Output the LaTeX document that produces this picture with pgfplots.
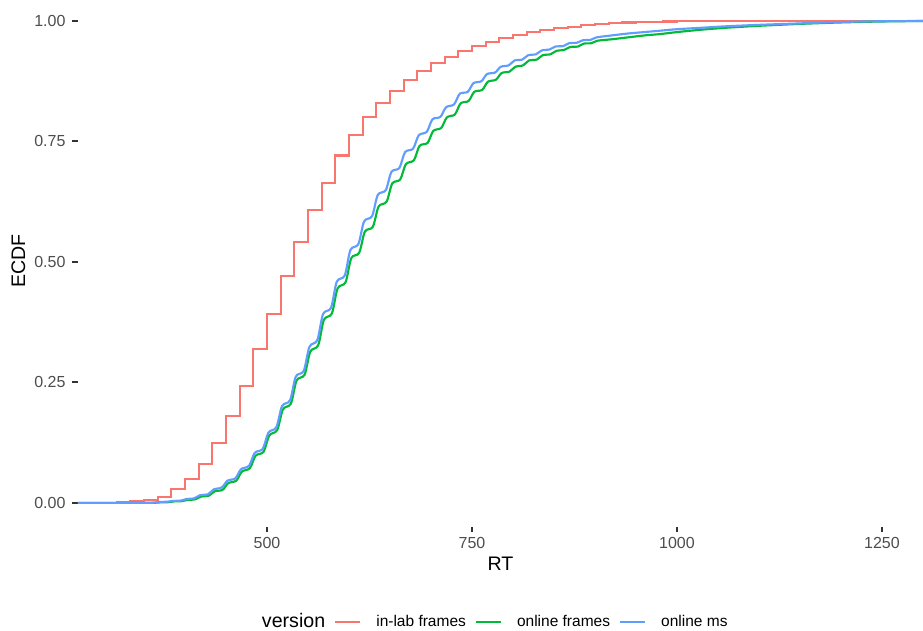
\documentclass[border=0pt]{standalone}
\usepackage{fontspec}
\setmainfont{Liberation Sans}
\usepackage{pgfplots}
\pgfplotsset{compat=1.18}
\definecolor{cRed}{HTML}{F8766D}
\definecolor{cGreen}{HTML}{00BA38}
\definecolor{cBlue}{HTML}{619CFF}
\definecolor{g30}{HTML}{4D4D4D}
\definecolor{g20}{HTML}{333333}
\begin{document}
\begin{tikzpicture}
\begin{axis}[
  name=ax,
  scale only axis, width=422.5pt, height=263.5pt,
  xmin=269.5, xmax=1300, ymin=-0.05, ymax=1.0436,
  axis x line*=bottom, axis y line*=left,
  axis line style={draw=none},
  tick align=outside,
  major tick length=2.75pt,
  tick style={g20, line width=1.0pt},
  xtick={500,750,1000,1250}, ytick={0,0.25,0.5,0.75,1},
  minor tick num=0,
  /pgf/number format/assume math mode=true,
  /pgf/number format/1000 sep={},
  yticklabel style={/pgf/number format/fixed, /pgf/number format/fixed zerofill, /pgf/number format/precision=2},
  xticklabel style={yshift=1pt},
  tick label style={font=\fontsize{8}{9.5}\selectfont, color=g30},
  xlabel={RT}, ylabel={ECDF},
  label style={font=\fontsize{9.8}{12}\selectfont, color=black},
  xlabel style={at={(axis description cs:0.5,-0.0689)}, anchor=center},
  ylabel style={at={(axis description cs:-0.0707,0.505)}, anchor=center},
  clip=false,
  legend columns=-1,
  legend style={draw=none, fill=none, inner sep=0pt, outer sep=0pt,
    at={(axis description cs:0.2000,-0.1810)}, anchor=west,
    font=\fontsize{7.75}{9.5}\selectfont,
    nodes={inner sep=0pt},
    /tikz/every even column/.append style={column sep=4.5pt},
    /tikz/every odd column/.append style={column sep=7.5pt}},
  legend image code/.code={\draw[#1] (0pt,0pt) -- (12.5pt,0pt);},
  every axis plot/.append style={line width=1.07pt},
]
\addlegendimage{empty legend}
\addlegendentry{\fontsize{9.8}{12}\selectfont version}

\addplot[cRed, const plot] coordinates {
(269.5,0) (300,0) (316.7,0.001) (333.3,0.003) (350,0.006) (366.7,0.012) (383.3,0.029)
(400,0.049) (416.7,0.080) (433.3,0.125) (450,0.180) (466.7,0.243) (483.3,0.320)
(500,0.392) (516.7,0.470) (533.3,0.541) (550,0.607) (566.7,0.664) (583.3,0.721)
(600,0.764) (616.7,0.801) (633.3,0.830) (650,0.855) (666.7,0.878) (683.3,0.897)
(700,0.912) (716.7,0.926) (733.3,0.938) (750,0.949) (766.7,0.957) (783.3,0.965)
(800,0.971) (816.7,0.977) (833.3,0.981) (850,0.985) (866.7,0.988) (883.3,0.991)
(900,0.993) (916.7,0.995) (933.3,0.997) (950,0.998) (966.7,0.9985) (983.3,0.999)
(1000,0.9995) (1016.7,0.9997) (1050,1.0) (1300,1.0)
};
\addlegendentry{in-lab frames}

\addplot[cGreen, smooth, tension=0.5] coordinates {
(269.5,0) (320,0) (345,0.0001)
(362.4,0.0002) (369.4,0.001) (379.1,0.0014) (386.1,0.003) (395.8,0.0036) (402.8,0.006)
(412.4,0.0074) (419.4,0.013) (429.1,0.015) (436.1,0.024) (445.8,0.027) (452.8,0.041)
(462.4,0.046) (469.4,0.065) (479.1,0.072) (486.1,0.098) (495.8,0.106) (502.8,0.140)
(512.4,0.151) (519.4,0.194) (529.1,0.206) (536.1,0.254) (545.8,0.266) (552.8,0.314)
(562.4,0.327) (569.4,0.380) (579.1,0.393) (586.1,0.445) (595.8,0.458) (602.8,0.508)
(612.4,0.519) (619.4,0.563) (629.1,0.573) (636.1,0.615) (645.8,0.625) (652.8,0.663)
(662.4,0.671) (669.4,0.703) (679.1,0.711) (686.1,0.741) (695.8,0.747) (702.8,0.772)
(712.4,0.778) (719.4,0.800) (729.1,0.806) (736.1,0.829) (745.8,0.834) (752.8,0.853)
(762.4,0.857) (769.4,0.874) (779.1,0.878) (786.1,0.892) (795.8,0.895) (802.8,0.905)
(812.4,0.908) (819.4,0.918) (829.1,0.920) (836.1,0.929) (845.8,0.931) (852.8,0.938)
(862.4,0.940) (869.4,0.946) (879.1,0.947) (886.1,0.953) (895.8,0.954) (902.8,0.959)
(920,0.962) (940,0.966) (960,0.970) (980,0.973) (1000,0.977) (1030,0.982)
(1060,0.986) (1100,0.990) (1150,0.994) (1200,0.997) (1250,0.999) (1300,1.0)
};
\addlegendentry{online frames}

\addplot[cBlue, smooth, tension=0.5] coordinates {
(269.5,0) (320,0) (345,0.0002)
(361.4,0.0004) (368.4,0.002) (378.1,0.0024) (385.1,0.004) (394.8,0.0048) (401.8,0.008)
(411.4,0.0096) (418.4,0.016) (428.1,0.018) (435.1,0.028) (444.8,0.032) (451.8,0.046)
(461.4,0.051) (468.4,0.070) (478.1,0.077) (485.1,0.104) (494.8,0.112) (501.8,0.146)
(511.4,0.157) (518.4,0.201) (528.1,0.213) (535.1,0.262) (544.8,0.274) (551.8,0.324)
(561.4,0.338) (568.4,0.392) (578.1,0.405) (585.1,0.459) (594.8,0.472) (601.8,0.525)
(611.4,0.537) (618.4,0.584) (628.1,0.595) (635.1,0.639) (644.8,0.649) (651.8,0.687)
(661.4,0.695) (668.4,0.728) (678.1,0.735) (685.1,0.763) (694.8,0.770) (701.8,0.796)
(711.4,0.801) (718.4,0.821) (728.1,0.827) (735.1,0.849) (744.8,0.853) (751.8,0.871)
(761.4,0.875) (768.4,0.890) (778.1,0.893) (785.1,0.905) (794.8,0.908) (801.8,0.918)
(811.4,0.920) (818.4,0.929) (828.1,0.931) (835.1,0.939) (844.8,0.941) (851.8,0.947)
(861.4,0.948) (868.4,0.954) (878.1,0.955) (885.1,0.960) (894.8,0.961) (901.8,0.966)
(920,0.970) (940,0.974) (960,0.977) (980,0.980) (1000,0.983) (1030,0.986)
(1060,0.989) (1100,0.992) (1150,0.995) (1200,0.998) (1250,0.9995) (1300,1.0)
};
\addlegendentry{online ms}
\end{axis}
\pgfresetboundingbox
\path ([xshift=-39pt,yshift=-52pt]ax.south west) rectangle (ax.north east);
\end{tikzpicture}
\end{document}
